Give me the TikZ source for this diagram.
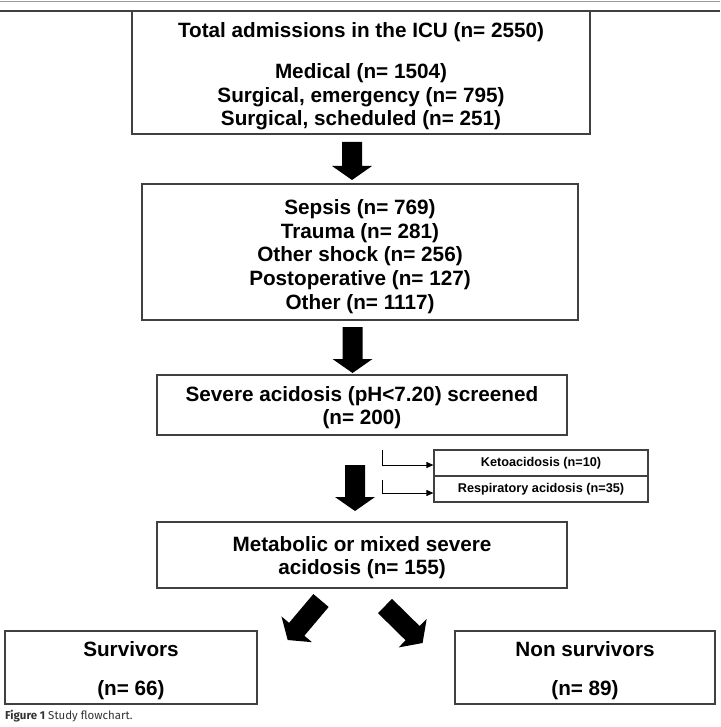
\documentclass[tikz,border=0pt]{standalone}
\usepackage{fontspec}
\setmainfont{Liberation Sans}
\newfontfamily\capfont{Fira Sans}
\usetikzlibrary{arrows.meta,calc}
\definecolor{boxgray}{HTML}{404040}
\definecolor{rulegray}{HTML}{9A9A9A}
\definecolor{capgray}{HTML}{333333}
\newcommand\fatarrow[2]{%
  \path ($(#2)!14pt!(#1)$) coordinate (hb);
  \fill[black] ($(#1)!10pt!90:(#2)$) -- ($(hb)!10pt!-90:(#1)$) -- ($(hb)!20pt!-90:(#1)$) -- (#2)
    -- ($(hb)!20pt!90:(#1)$) -- ($(hb)!10pt!90:(#1)$) -- ($(#1)!10pt!-90:(#2)$) -- cycle;}
\begin{document}
\begin{tikzpicture}[x=1pt,y=-1pt,
  box/.style={draw=boxgray, line width=1.6pt, inner sep=0pt},
  txt/.style={inner sep=0pt, align=center, font=\fontsize{20.7}{23.7}\selectfont\bfseries},
  smallbox/.style={draw=boxgray, line width=1.2pt, inner sep=0pt, align=center,
    minimum width=214pt, minimum height=26pt, font=\fontsize{12.7}{14}\selectfont\bfseries},
  sidearrow/.style={draw=black, line width=1pt, -{Triangle[length=7pt,width=6pt]}}]
\useasboundingbox (0,0) rectangle (720,727);
% top rules
\coordinate (rl) at (0,1.5); \coordinate (rr) at (720,1.5);
\draw[rulegray, line width=1.2pt] (rl) -- (rr);
\coordinate (tl) at (0,11); \coordinate (tr) at (720,11);
\draw[boxgray, line width=1.6pt] (tl) -- (tr);
% boxes
\node[box, minimum width=458pt, minimum height=123pt] (b1) at (361,72.5) {};
\node[txt] (b1t) at ([yshift=-4pt]b1.center)
  {Total admissions in the ICU (n= 2550)\\[17pt]Medical (n= 1504)\\Surgical, emergency (n= 795)\\Surgical, scheduled (n= 251)};
\node[box, minimum width=436pt, minimum height=136pt] (b2) at (360,252) {};
\node[txt] (b2t) at ([yshift=-4.5pt]b2.center)
  {Sepsis (n= 769)\\Trauma (n= 281)\\Other shock (n= 256)\\Postoperative (n= 127)\\Other (n= 1117)};
\node[box, minimum width=410pt, minimum height=60pt] (b3) at (362,405) {};
\node[txt] (b3t) at ([yshift=-2.5pt]b3.center)
  {Severe acidosis (pH<7.20) screened\\(n= 200)};
\node[smallbox] (k1) at (541,463) {Ketoacidosis (n=10)};
\node[smallbox] (k2) at (541,489) {Respiratory acidosis (n=35)};
\node[box, minimum width=410pt, minimum height=66pt] (b4) at (362,555) {};
\node[txt] (b4t) at ([yshift=-2.5pt]b4.center)
  {Metabolic or mixed severe\\acidosis (n= 155)};
\node[box, minimum width=252pt, minimum height=73pt] (s) at (131,667.5) {};
\node[txt] (st) at ([yshift=-3pt]s.center) {Survivors\\[15.5pt](n= 66)};
\node[box, minimum width=260pt, minimum height=73pt] (ns) at (585,667.5) {};
\node[txt] (nst) at ([yshift=-3pt]ns.center) {Non survivors\\[15.5pt](n= 89)};
% fat arrows
\coordinate (a1s) at (352,142); \coordinate (a1e) at (352,180);
\fatarrow{a1s}{a1e}
\coordinate (a2s) at (352.5,327); \coordinate (a2e) at (352.5,373);
\fatarrow{a2s}{a2e}
\coordinate (a3s) at (355,465); \coordinate (a3e) at (355,511);
\fatarrow{a3s}{a3e}
\coordinate (a4s) at (321,600.5); \coordinate (a4e) at (287.7,640);
\fatarrow{a4s}{a4e}
\coordinate (a5s) at (385,606); \coordinate (a5e) at (422.6,643);
\fatarrow{a5s}{a5e}
% side exclusions
\coordinate (c1) at (382,450);
\draw[sidearrow] (c1) |- ($(k1.west)+(0,2)$);
\coordinate (c2) at (382,480);
\draw[sidearrow] (c2) |- ($(k2.west)+(0,4)$);
% caption
\node[anchor=west, inner sep=0pt, text=capgray, font=\capfont\fontsize{11.5}{13}\selectfont] (cap) at (5,716)
  {\textbf{Figure 1} Study flowchart.};
\end{tikzpicture}
\end{document}
